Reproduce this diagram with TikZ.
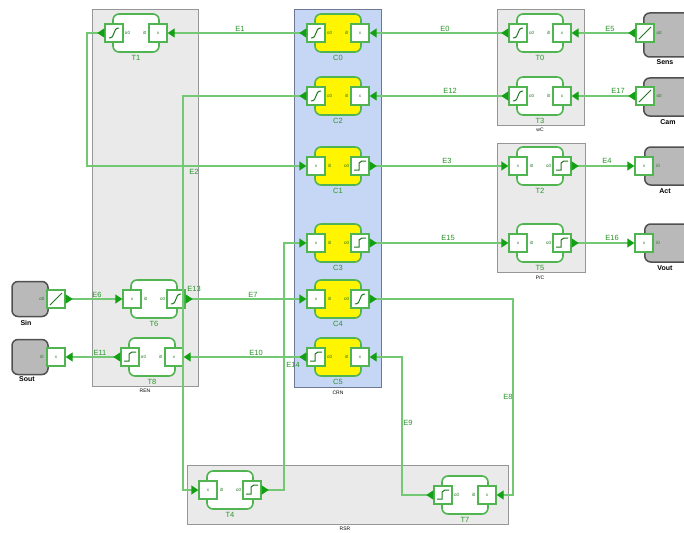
\documentclass[tikz,border=0pt]{standalone}
\usepackage{fontspec}
\setmainfont{Liberation Sans}
\usetikzlibrary{arrows.meta}
\definecolor{lg}{RGB}{115,200,115}
\definecolor{ag}{RGB}{20,160,20}
\definecolor{bg}{RGB}{80,180,80}
\definecolor{tg}{RGB}{40,150,40}
\definecolor{cf}{RGB}{234,234,234}
\definecolor{cb}{RGB}{150,150,150}
\definecolor{bf}{RGB}{198,214,245}
\definecolor{bb}{RGB}{110,120,150}
\definecolor{yf}{RGB}{255,245,0}
\definecolor{sf}{RGB}{185,185,185}
\definecolor{sb}{RGB}{80,80,80}
\definecolor{gd}{RGB}{30,120,30}
\tikzset{
 cont/.style={draw=cb,fill=cf,line width=1pt},
 body/.style={draw=bg,line width=1.6pt,rounded corners=6pt,minimum width=46pt,minimum height=38pt,inner sep=0pt},
 port/.style={draw=bg,fill=white,line width=1.4pt,minimum size=18pt,inner sep=0pt},
 glyph/.style={draw=gd,line width=1pt},
 conn/.style={draw=lg,line width=1.4pt,arrows={Triangle[reversed,length=7pt,width=9pt,color=ag]-Triangle[length=7pt,width=9pt,color=ag]}},
 elab/.style={text=tg,font=\fontsize{7.5}{8}\selectfont,inner sep=1pt},
 clab/.style={text=tg,font=\fontsize{7.5}{8}\selectfont,inner sep=0pt},
 plab/.style={text=gd,font=\fontsize{4.5}{4.5}\selectfont,inner sep=0pt},
 dev/.style={draw=sb,fill=sf,line width=1.5pt,rounded corners=6pt,inner sep=0pt},
 dlab/.style={font=\bfseries\fontsize{7}{8}\selectfont,inner sep=0pt},
 klab/.style={font=\fontsize{5}{5}\selectfont,inner sep=0pt},
 sig/.pic={\draw[glyph] (-5,5) .. controls (2,5) and (-2,-5) .. (5,-5);},
 stp/.pic={\draw[glyph] (-6,4) -- (-1,4) -- (-1,-3) -- (2,-5) -- (6,-5);},
 dotx/.pic={\node[text=gd,font=\fontsize{4.5}{4.5}\selectfont,inner sep=0pt] {x};},
 sl/.pic={\draw[glyph] (-6,6) -- (6,-6);}
}
% name, x, y, label, fill, left glyph, left port label, right glyph, right port label
\newcommand\comp[9]{%
 \node[body,fill=#5] (#1) at (#2,#3) {};
 \node[port] (#1l) at ([xshift=-22pt]#1.center) {};
 \node[port] (#1r) at ([xshift=22pt]#1.center) {};
 \pic at (#1l) {#6};
 \pic at (#1r) {#8};
 \node[plab] at ([xshift=-8.5pt]#1.center) {#7};
 \node[plab] at ([xshift=8.5pt]#1.center) {#9};
 \node[clab] at ([yshift=-25pt]#1.center) {#4};
}
\begin{document}
\begin{tikzpicture}[x=1pt,y={(0pt,-1pt)}]
\useasboundingbox (0,0) rectangle (684,532);
\clip (0,0) rectangle (684,532);
\fill[white] (0,0) rectangle (684,532);
% containers
\draw[cont] (92,10) rectangle (198,386);
\node[klab] (kREN) at (145,391) {REN};
\draw[draw=bb,fill=bf,line width=1pt] (294,10) rectangle (381,387);
\node[klab] (kCRN) at (338,393) {CRN};
\draw[cont] (497,10) rectangle (584,125);
\node[klab] (kwC) at (540,130) {wC};
\draw[cont] (497,143) rectangle (585,272);
\node[klab] (kPC) at (540,278) {P/C};
\draw[cont] (187,465) rectangle (508,524);
\node[klab] (kRSR) at (345,529) {RSR};
% components
\comp{T1}{136}{33}{T1}{white}{sig}{o0}{dotx}{i0}
\comp{C0}{338}{33}{C0}{yf}{sig}{o0}{dotx}{i0}
\comp{C2}{338}{96}{C2}{yf}{sig}{o0}{dotx}{i0}
\comp{C1}{338}{166}{C1}{yf}{dotx}{i0}{stp}{o0}
\comp{C3}{338}{243}{C3}{yf}{dotx}{i0}{stp}{o0}
\comp{C4}{338}{299}{C4}{yf}{dotx}{i0}{sig}{o0}
\comp{C5}{338}{357}{C5}{yf}{stp}{o0}{dotx}{i0}
\comp{T0}{540}{33}{T0}{white}{sig}{o0}{dotx}{i0}
\comp{T3}{540}{96}{T3}{white}{sig}{o0}{dotx}{i0}
\comp{T2}{540}{166}{T2}{white}{dotx}{i0}{stp}{o0}
\comp{T5}{540}{243}{T5}{white}{dotx}{i0}{stp}{o0}
\comp{T6}{154}{299}{T6}{white}{dotx}{i0}{sig}{o0}
\comp{T8}{152}{357}{T8}{white}{stp}{o0}{dotx}{i0}
\comp{T4}{230}{490}{T4}{white}{dotx}{i0}{stp}{o0}
\comp{T7}{465}{495}{T7}{white}{stp}{o0}{dotx}{i0}
% devices
\node[dev,minimum width=50pt,minimum height=44pt,anchor=west] (Sens) at (643,35) {};
\node[port] (Sensp) at (645,33) {}; \pic at (Sensp) {sl};
\node[plab] at (659,33) {o0};
\node[dlab] at (665,62) {Sens};
\node[dev,minimum width=50pt,minimum height=38pt,anchor=west] (Cam) at (643,97) {};
\node[port] (Camp) at (645,96) {}; \pic at (Camp) {sl};
\node[plab] at (659,96) {o0};
\node[dlab] at (668,122) {Cam};
\node[dev,minimum width=50pt,minimum height=38pt,anchor=west] (Act) at (644,166) {};
\node[port] (Actp) at (644,166) {}; \pic at (Actp) {dotx};
\node[plab] at (658,166) {i0};
\node[dlab] at (665,191) {Act};
\node[dev,minimum width=50pt,minimum height=38pt,anchor=west] (Vout) at (644,243) {};
\node[port] (Voutp) at (644,243) {}; \pic at (Voutp) {dotx};
\node[plab] at (658,243) {i0};
\node[dlab] at (665,268) {Vout};
\node[dev,minimum width=36pt,minimum height=35pt] (Sin) at (30,299) {};
\node[port] (Sinp) at (56,299) {}; \pic at (Sinp) {sl};
\node[plab] at (42,299) {o0};
\node[dlab] at (26,323) {Sin};
\node[dev,minimum width=36pt,minimum height=35pt] (Sout) at (30,357) {};
\node[port] (Soutp) at (56,357) {}; \pic at (Soutp) {dotx};
\node[plab] at (42,357) {i0};
\node[dlab] at (27,379) {Sout};
% connectors
\draw[conn] (C0l.west) -- (T1r.east);
\draw[conn] (T0l.west) -- (C0r.east);
\draw[conn] (Sensp.west) -- (T0r.east);
\draw[conn] (Camp.west) -- (T3r.east);
\draw[conn] (T3l.west) -- (C2r.east);
\draw[conn] (C2l.west) -- (183,96) -- (183,490) -- (T4l.west);
\draw[conn] (T1l.west) -- (87,33) -- (87,166) -- (C1l.west);
\draw[conn] (C1r.east) -- (T2l.west);
\draw[conn] (T2r.east) -- (Actp.west);
\draw[conn] (C3r.east) -- (T5l.west);
\draw[conn] (T5r.east) -- (Voutp.west);
\draw[conn] (T4r.east) -- (284,490) -- (284,243) -- (C3l.west);
\draw[conn] (T6r.east) -- (C4l.west);
\draw[conn] (Sinp.east) -- (T6l.west);
\draw[conn] (C5l.west) -- (T8r.east);
\draw[conn] (T8l.west) -- (Soutp.east);
\draw[conn] (C4r.east) -- (513,299) -- (513,495) -- (T7r.east);
\draw[conn] (T7l.west) -- (402,495) -- (402,357) -- (C5r.east);
% connector labels
\node[elab] at (240,29) {E1};
\node[elab] at (445,29) {E0};
\node[elab] at (610,29) {E5};
\node[elab] at (618,91) {E17};
\node[elab] at (450,91) {E12};
\node[elab] at (194,289) {E13};
\node[elab] at (194,172) {E2};
\node[elab] at (447,161) {E3};
\node[elab] at (607,161) {E4};
\node[elab] at (448,238) {E15};
\node[elab] at (612,238) {E16};
\node[elab] at (293,365) {E14};
\node[elab] at (253,295) {E7};
\node[elab] at (97,295) {E6};
\node[elab] at (256,353) {E10};
\node[elab] at (100,353) {E11};
\node[elab] at (508,397) {E8};
\node[elab] at (408,423) {E9};
\end{tikzpicture}
\end{document}
